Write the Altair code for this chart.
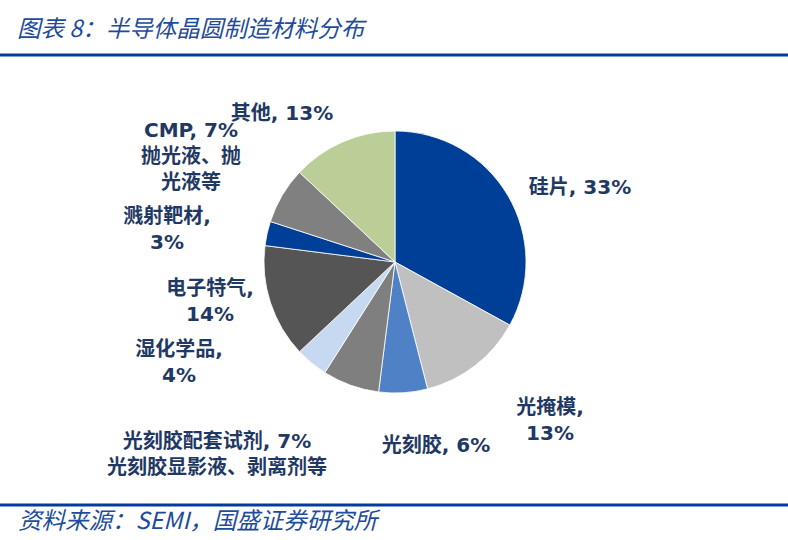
import altair as alt
import pandas as pd

# ---- data ----
categories = ["硅片", "光掩模", "光刻胶", "光刻胶配套试剂", "湿化学品", "电子特气", "溅射靶材", "CMP", "其他"]
shares = [33, 13, 6, 7, 4, 14, 3, 7, 13]
label_texts = [
    "硅片, 33%",
    "光掩模,\n13%",
    "光刻胶, 6%",
    "光刻胶配套试剂, 7%\n光刻胶显影液、剥离剂等",
    "湿化学品,\n4%",
    "电子特气,\n14%",
    "溅射靶材,\n3%",
    "CMP, 7%\n抛光液、抛\n光液等",
    "其他, 13%",
]
title_text = "图表 8：半导体晶圆制造材料分布"
source_text = "资料来源：SEMI，国盛证券研究所"

# ---- layout / style ----
colors = ["#003F98", "#C0C0C0", "#4F81C6", "#7F7F7F", "#C6D9F0",
          "#555555", "#003F98", "#808080", "#BCCE98"]
label_x = [580, 550, 436, 217, 179, 210, 167, 191, 282]
label_y = [188, 408, 446, 442, 350, 289, 217, 131, 114]  # first-line centres
CX, CY, R = 395, 262, 131
W, H = 788, 540
FONT = "DejaVu Sans, Noto Sans CJK SC"
TXT = "#1F3864"
BLUE = "#003D9B"

df = pd.DataFrame({"category": categories, "share": shares, "idx": list(range(len(categories)))})
ldf = pd.DataFrame({"label": label_texts, "lx": label_x, "ly": label_y})

pie = alt.Chart(df).mark_arc(outerRadius=R, stroke="white", strokeWidth=0.8).encode(
    theta=alt.Theta("share:Q", stack=True),
    order=alt.Order("idx:Q"),
    color=alt.Color("category:N", scale=alt.Scale(domain=categories, range=colors), legend=None),
    x=alt.value(CX),
    y=alt.value(CY),
)

labels = alt.Chart(ldf).mark_text(
    font=FONT, fontSize=20, fontWeight="bold", color=TXT,
    align="center", baseline="middle", lineBreak="\n", lineHeight=26,
).encode(
    x=alt.X("lx:Q", scale=None, axis=None),
    y=alt.Y("ly:Q", scale=None, axis=None),
    text="label:N",
)

title = alt.Chart(pd.DataFrame({"t": [title_text]})).mark_text(
    font="Noto Sans CJK SC", fontSize=23.5, fontStyle="italic", color="#1E4C9C",
    align="left", baseline="middle",
).encode(text="t:N", x=alt.value(17), y=alt.value(30))

source = alt.Chart(pd.DataFrame({"t": [source_text]})).mark_text(
    font="Noto Sans CJK SC", fontSize=23.5, fontStyle="italic", color="#1E4C9C",
    align="left", baseline="middle",
).encode(text="t:N", x=alt.value(18), y=alt.value(522))

rule_df = pd.DataFrame({"k": [0]})
top_rule = alt.Chart(rule_df).mark_rule(color=BLUE, strokeWidth=3).encode(
    x=alt.value(0), x2=alt.value(W), y=alt.value(55))
bot_rule = alt.Chart(rule_df).mark_rule(color=BLUE, strokeWidth=3).encode(
    x=alt.value(0), x2=alt.value(W), y=alt.value(505))

chart = alt.layer(pie, labels, title, source, top_rule, bot_rule).properties(
    width=W, height=H,
    autosize=alt.AutoSizeParams(type="none"),
    padding=0,
    background="white",
).configure_view(stroke=None)

chart.save("out.html", embed_options={"renderer": "svg", "actions": False})
